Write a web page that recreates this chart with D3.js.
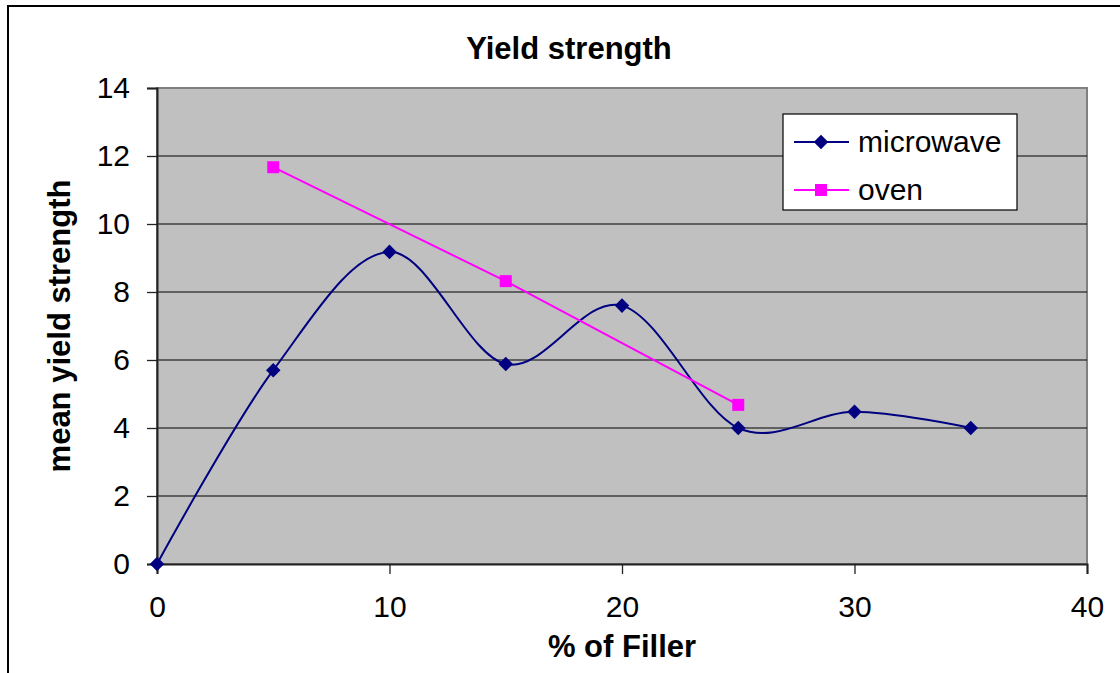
<!DOCTYPE html>
<html lang="en">
<head>
<meta charset="UTF-8">
<title>Yield strength</title>
<style>
  body { margin: 0; background: #fff; }
  svg text { font-family: "Liberation Sans", Arial, sans-serif; fill: #000; }
</style>
</head>
<body>
<svg width="1120" height="673"></svg>
<script src="https://d3js.org/d3.v7.min.js"></script>
<script>
// data
var filler = [0, 5, 10, 15, 20, 25, 30, 35];
var microwave = [0, 5.7, 9.18, 5.88, 7.6, 4.0, 4.48, 4.0];
var ovenFiller = [5, 15, 25];
var oven = [11.67, 8.32, 4.68];
var xTicks = [0, 10, 20, 30, 40];
var yTicks = [0, 2, 4, 6, 8, 10, 12, 14];

var svg = d3.select("svg"),
    plot = {left: 157, top: 88, right: 1087, bottom: 564};

// outer chart frame (runs off the right and bottom)
svg.append("rect")
    .attr("x", 8).attr("y", 6)
    .attr("width", 1130).attr("height", 700)
    .attr("fill", "#fff")
    .attr("stroke", "#000").attr("stroke-width", 2);

var x = d3.scaleLinear().domain([0, 40]).range([plot.left, plot.right]);
var y = d3.scaleLinear().domain([0, 14]).range([plot.bottom, plot.top]);

svg.append("rect")
    .attr("x", plot.left).attr("y", plot.top)
    .attr("width", plot.right - plot.left).attr("height", plot.bottom - plot.top)
    .attr("fill", "#c0c0c0")
    .attr("stroke", "#808080").attr("stroke-width", 2);

// gridlines
svg.append("g").selectAll("line")
  .data(yTicks.filter(function(d) { return d > 0 && d < 14; }))
  .enter().append("line")
    .attr("x1", plot.left).attr("x2", plot.right)
    .attr("y1", function(d) { return y(d); })
    .attr("y2", function(d) { return y(d); })
    .attr("stroke", "#000").attr("stroke-width", 1.2);

// axes
var yAxis = svg.append("g")
    .attr("transform", "translate(" + plot.left + ",0)")
    .call(d3.axisLeft(y).tickValues(yTicks).tickSize(10).tickPadding(17));
var xAxis = svg.append("g")
    .attr("transform", "translate(0," + plot.bottom + ")")
    .call(d3.axisBottom(x).tickValues(xTicks).tickSize(10).tickPadding(22));

[xAxis, yAxis].forEach(function(a) {
  a.select(".domain").attr("stroke", "#222").attr("stroke-width", 2);
  a.selectAll(".tick line").attr("stroke", "#222").attr("stroke-width", 1.3);
  a.selectAll(".tick text")
      .attr("font-size", 30)
      .attr("font-family", "Liberation Sans, Arial, sans-serif")
      .attr("fill", "#000");
});

// series
var mwPts = filler.map(function(f, i) { return [x(f), y(microwave[i])]; });
var ovPts = ovenFiller.map(function(f, i) { return [x(f), y(oven[i])]; });

svg.append("path")
    .attr("d", d3.line().curve(d3.curveCardinal.tension(0))(mwPts))
    .attr("fill", "none").attr("stroke", "#000080").attr("stroke-width", 2);

svg.append("path")
    .attr("d", d3.line()(ovPts))
    .attr("fill", "none").attr("stroke", "#ff00ff").attr("stroke-width", 2);

var diamond = d3.symbol().type(d3.symbolDiamond2).size(135);
svg.append("g").selectAll("path")
  .data(mwPts)
  .enter().append("path")
    .attr("d", diamond)
    .attr("transform", function(d) { return "translate(" + d[0] + "," + d[1] + ")"; })
    .attr("fill", "#000080");

svg.append("g").selectAll("rect")
  .data(ovPts)
  .enter().append("rect")
    .attr("x", function(d) { return d[0] - 6; })
    .attr("y", function(d) { return d[1] - 6; })
    .attr("width", 12).attr("height", 12)
    .attr("fill", "#ff00ff");

// titles
svg.append("text")
    .attr("x", 569).attr("y", 59)
    .attr("text-anchor", "middle")
    .attr("font-size", 31).attr("font-weight", "bold")
    .text("Yield strength");

svg.append("text")
    .attr("x", (plot.left + plot.right) / 2).attr("y", 657)
    .attr("text-anchor", "middle")
    .attr("font-size", 31).attr("font-weight", "bold")
    .text("% of Filler");

svg.append("text")
    .attr("transform", "translate(70," + (plot.top + plot.bottom) / 2 + ") rotate(-90)")
    .attr("text-anchor", "middle")
    .attr("font-size", 31).attr("font-weight", "bold")
    .text("mean yield strength");

// legend
var legend = svg.append("g").attr("transform", "translate(783,114)");
legend.append("rect")
    .attr("width", 234).attr("height", 96)
    .attr("fill", "#fff").attr("stroke", "#000").attr("stroke-width", 1.2);

var items = [
  {name: "microwave", color: "#000080", shape: "diamond", y: 28},
  {name: "oven", color: "#ff00ff", shape: "square", y: 76}
];
var li = legend.selectAll(".item")
  .data(items)
  .enter().append("g")
    .attr("transform", function(d) { return "translate(0," + d.y + ")"; });
li.append("line")
    .attr("x1", 11).attr("x2", 66)
    .attr("stroke", function(d) { return d.color; })
    .attr("stroke-width", 2);
li.append("path")
    .attr("d", function(d) {
      return d.shape === "diamond" ? diamond() : d3.symbol().type(d3.symbolSquare).size(144)();
    })
    .attr("transform", "translate(38,0)")
    .attr("fill", function(d) { return d.color; });
li.append("text")
    .attr("x", 75).attr("y", 10)
    .attr("font-size", 30)
    .text(function(d) { return d.name; });
</script>
</body>
</html>
